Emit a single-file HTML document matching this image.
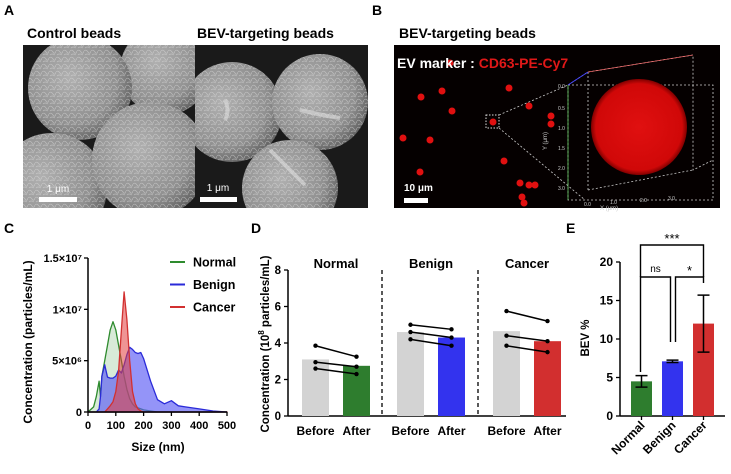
<!DOCTYPE html>
<html><head><meta charset="utf-8"><style>
html,body{margin:0;padding:0;background:#fff;}
svg{display:block;font-family:"Liberation Sans",Arial,sans-serif;}
.b{font-weight:bold;}
</style></head><body>
<svg id="fig" width="731" height="474" viewBox="0 0 731 474">
<defs>
<radialGradient id="sem" cx="0.4" cy="0.4" r="0.65"><stop offset="0" stop-color="#b0b0b0"/><stop offset="0.7" stop-color="#909090"/><stop offset="1" stop-color="#606060"/></radialGradient>
<pattern id="tex" width="7" height="7" patternUnits="userSpaceOnUse"><path d="M0 2 Q2 0 4 3 T7 2 M1 6 Q3 4 6 6" stroke="#e0e0e0" stroke-width="0.7" fill="none" opacity="0.5"/></pattern>
<radialGradient id="redsph" cx="0.5" cy="0.5" r="0.5"><stop offset="0" stop-color="#e01010"/><stop offset="0.9" stop-color="#d00808"/><stop offset="1" stop-color="#800000"/></radialGradient>
<clipPath id="clipA1"><rect x="23" y="45" width="172" height="163"/></clipPath>
<clipPath id="clipA2"><rect x="195" y="45" width="173" height="163"/></clipPath>
</defs>

<g class="b" font-size="14">
<text x="4" y="15">A</text><text x="372" y="15">B</text>
<text x="4" y="233">C</text><text x="251" y="233">D</text><text x="566" y="233">E</text>
</g>

<g>
<text x="27" y="38" class="b" font-size="14">Control beads</text>
<text x="197" y="38" class="b" font-size="14">BEV-targeting beads</text>
<rect x="23" y="45" width="345" height="163" fill="#1a1a1a"/>
<g clip-path="url(#clipA1)">
<circle cx="165" cy="70" r="45" fill="url(#sem)"/><circle cx="165" cy="70" r="45" fill="url(#tex)"/>
<circle cx="80" cy="88" r="52" fill="url(#sem)"/><circle cx="80" cy="88" r="52" fill="url(#tex)"/>
<circle cx="52" cy="188" r="55" fill="url(#sem)"/><circle cx="52" cy="188" r="55" fill="url(#tex)"/>
<circle cx="150" cy="160" r="58" fill="url(#sem)"/><circle cx="150" cy="160" r="58" fill="url(#tex)"/>
</g>
<g clip-path="url(#clipA2)">
<circle cx="232" cy="112" r="50" fill="url(#sem)"/><circle cx="232" cy="112" r="50" fill="url(#tex)"/>
<circle cx="320" cy="102" r="48" fill="url(#sem)"/><circle cx="320" cy="102" r="48" fill="url(#tex)"/>
<circle cx="290" cy="188" r="48" fill="url(#sem)"/><circle cx="290" cy="188" r="48" fill="url(#tex)"/>
<path d="M225 100 q5 10 0 20 M300 110 q20 5 40 8 M270 150 q20 20 35 35" stroke="#ddd" stroke-width="4" fill="none" opacity="0.6"/>
</g>
<rect x="39" y="197" width="38" height="5" fill="#fff"/>
<text x="58" y="192" fill="#fff" font-size="10" text-anchor="middle">1 μm</text>
<rect x="200" y="197" width="37" height="5" fill="#fff"/>
<text x="218" y="191" fill="#fff" font-size="10" text-anchor="middle">1 μm</text>
</g>

<g>
<text x="399" y="38" class="b" font-size="14">BEV-targeting beads</text>
<rect x="394" y="45" width="326" height="163" fill="#050000"/>
<g fill="#e01010">
<circle cx="450" cy="63" r="3.5"/><circle cx="421" cy="97" r="3.5"/><circle cx="442" cy="91" r="3.5"/><circle cx="452" cy="111" r="3.5"/>
<circle cx="509" cy="88" r="3.5"/><circle cx="529" cy="106" r="3.5"/><circle cx="493" cy="122" r="3.5"/><circle cx="551" cy="116" r="3.5"/>
<circle cx="551" cy="124" r="3.5"/><circle cx="403" cy="138" r="3.5"/><circle cx="430" cy="140" r="3.5"/><circle cx="504" cy="161" r="3.5"/>
<circle cx="420" cy="172" r="3.5"/><circle cx="520" cy="183" r="3.5"/><circle cx="529" cy="185" r="3.5"/><circle cx="535" cy="185" r="3.5"/>
<circle cx="522" cy="197" r="3.5"/><circle cx="524" cy="203" r="3.5"/>
</g>
<text x="397" y="68" class="b" font-size="14" fill="#fff">EV marker : <tspan fill="#e01818">CD63-PE-Cy7</tspan></text>
<rect x="486" y="115" width="13" height="13" fill="none" stroke="#ddd" stroke-dasharray="1.5,1.5"/>
<g stroke="#ccc" stroke-dasharray="2,2" fill="none" stroke-width="0.8">
<line x1="499" y1="115" x2="568" y2="85"/><line x1="499" y1="128" x2="585" y2="200"/>
<polyline points="568,85 588,72 693,55 693,170 713,160"/>
<line x1="588" y1="72" x2="588" y2="190"/>
<polyline points="588,190 693,170"/>
<rect x="568" y="85" width="145" height="115"/>
</g>
<line x1="568" y1="85" x2="588" y2="72" stroke="#44f" stroke-width="1"/>
<line x1="588" y1="72" x2="693" y2="55" stroke="#e66" stroke-width="0.8"/>
<line x1="568" y1="85" x2="568" y2="200" stroke="#6c6" stroke-width="0.8"/>
<circle cx="639" cy="127" r="48" fill="url(#redsph)"/>
<g fill="#ccc" font-size="5">
<text x="558" y="88">0.0</text><text x="558" y="110">0.5</text><text x="558" y="130">1.0</text><text x="558" y="150">1.5</text><text x="558" y="170">2.0</text><text x="558" y="190">3.0</text>
<text x="584" y="206">0.0</text><text x="610" y="204">1.0</text><text x="640" y="202">2.0</text><text x="668" y="200">3.0</text>
<text x="600" y="210" font-size="6">X (μm)</text>
<text x="547" y="150" font-size="6" transform="rotate(-90 547 150)">Y (μm)</text>
</g>
<rect x="404" y="198" width="24" height="5" fill="#fff"/>
<text x="404" y="191" fill="#fff" font-size="10" class="b">10 μm</text>
</g>

<g id="chartC"></g>
<g id="chartD"></g>
<g id="chartE"></g>
</svg>

<script>
const NS="http://www.w3.org/2000/svg";
function mk(parent,tag,attrs,text){const e=document.createElementNS(NS,tag);for(const k in attrs)e.setAttribute(k,attrs[k]);if(text!==undefined)e.textContent=text;parent.appendChild(e);return e;}

const cSizes=[0,20,30,40,45,50,60,70,80,90,100,110,120,130,140,150,160,170,180,190,200,225,250,275,300,325,350,400,450,500];
const cNormal=[0,0.5,1.5,3.0,1.5,3.5,5,6.5,8,8.8,8,6.5,5,3.5,2.2,1.3,0.8,0.5,0.4,0.3,0.2,0.1,0,0,0,0,0,0,0,0];
const cBenign=[0,0,0,0.3,1.5,3.5,4.6,3.4,3.3,3.3,3.5,4.1,3.8,4.6,5.6,6.3,6.1,5.8,5.7,5.8,5.2,3.0,1.2,0.8,1.1,0.6,0.5,0.3,0.1,0];
const cCancer=[0,0,0,0,0,0,0,0.3,0.6,1.0,2.0,4.0,8.0,11.7,9.0,5.0,2.0,0.8,0.3,0.1,0,0,0,0,0,0,0,0,0,0];
const cXTicks=[0,100,200,300,400,500];
const cYTicks=[0,5,10,15];
const cYTickLabels=["0","5×10⁶","1×10⁷","1.5×10⁷"];
const cLegend=["Normal","Benign","Cancer"];

const dGroups=["Normal","Benign","Cancer"];
const dBefore=[3.1,4.6,4.65];
const dAfter=[2.75,4.3,4.1];
const dPairsBefore=[[3.85,2.95,2.6],[5.0,4.6,4.2],[5.75,4.4,3.85]];
const dPairsAfter=[[3.25,2.7,2.3],[4.75,4.3,3.85],[5.2,4.1,3.5]];
const dYTicks=[0,2,4,6,8];

const eCats=["Normal","Benign","Cancer"];
const eMeans=[4.5,7.1,12.0];
const eErr=[0.75,0.15,3.7];
const eYTicks=[0,5,10,15,20];

(function(){
const g=document.getElementById('chartC');
const X=v=>88+v*(227-88)/500, Y=v=>412-v*(412-258)/15;
const series=[{d:cNormal,stroke:"#2e8b2e",fill:"rgba(60,150,60,0.2)",n:"normal"},{d:cBenign,stroke:"#2a2ad8",fill:"rgba(90,90,245,0.65)",n:"benign"},{d:cCancer,stroke:"#d23030",fill:"rgba(225,60,60,0.55)",n:"cancer"}];
series.forEach(s=>{
 let p="M"+X(cSizes[0])+","+Y(0);
 cSizes.forEach((x,i)=>{p+=" L"+X(x).toFixed(1)+","+Y(s.d[i]).toFixed(1);});
 p+=" L"+X(cSizes[cSizes.length-1])+","+Y(0)+" Z";
 const e=mk(g,'path',{d:p,fill:s.fill,stroke:s.stroke,'stroke-width':1.3,'stroke-linejoin':'round'});
 
 
});
mk(g,'line',{x1:88,y1:258,x2:88,y2:412,stroke:'#000','stroke-width':1.5});
mk(g,'line',{x1:88,y1:412,x2:227,y2:412,stroke:'#000','stroke-width':1.5});
cYTicks.forEach((t,i)=>{
 mk(g,'line',{x1:84,y1:Y(t),x2:88,y2:Y(t),stroke:'#000','stroke-width':1.3});
 const e=mk(g,'text',{x:82,y:Y(t)+4,'text-anchor':'end','font-size':11,'font-weight':'bold'},cYTickLabels[i]);
 
 
});
cXTicks.forEach(t=>{
 mk(g,'line',{x1:X(t),y1:412,x2:X(t),y2:416,stroke:'#000','stroke-width':1.3});
 const e=mk(g,'text',{x:X(t),y:429,'text-anchor':'middle','font-size':11,'font-weight':'bold'},String(t));
 
 
});
let e=mk(g,'text',{x:158,y:451,'text-anchor':'middle','font-size':12,'font-weight':'bold'},"Size (nm)");


e=mk(g,'text',{x:0,y:0,'text-anchor':'middle','font-size':12,'font-weight':'bold',transform:'translate(32,342) rotate(-90)'},"Concentration (particles/mL)");


cLegend.forEach((n,i)=>{
 const y=262+i*22.5;
 const lg=mk(g,'g',{});
 
 
 mk(lg,'line',{x1:170,y1:y,x2:185,y2:y,stroke:series[i].stroke,'stroke-width':2});
 mk(lg,'text',{x:193,y:y+4.5,'font-size':12.5,'font-weight':'bold'},n);
});
})();

(function(){
const g=document.getElementById('chartD');
const Y=v=>416-v*(416-270)/8;
const groupX=[302,397,493], bw=27, gap=41;
const colors=["#2e7d2e","#3333ee","#d22f2f"];
mk(g,'line',{x1:288,y1:270,x2:288,y2:416,stroke:'#000','stroke-width':1.5});
mk(g,'line',{x1:288,y1:416,x2:566,y2:416,stroke:'#000','stroke-width':1.5});
dYTicks.forEach(t=>{
 mk(g,'line',{x1:284,y1:Y(t),x2:288,y2:Y(t),stroke:'#000','stroke-width':1.3});
 const e=mk(g,'text',{x:281,y:Y(t)+4,'text-anchor':'end','font-size':11.5,'font-weight':'bold'},String(t));
 
 
});
[382,478].forEach(x=>mk(g,'line',{x1:x,y1:270,x2:x,y2:416,stroke:'#000','stroke-width':1.3,'stroke-dasharray':'4,3'}));
dGroups.forEach((n,i)=>{
 const x0=groupX[i];
 let e=mk(g,'rect',{x:x0,y:Y(dBefore[i]),width:bw,height:Y(0)-Y(dBefore[i]),fill:'#d3d3d3'});
 
 
 e=mk(g,'rect',{x:x0+gap,y:Y(dAfter[i]),width:bw,height:Y(0)-Y(dAfter[i]),fill:colors[i]});
 
 
 dPairsBefore[i].forEach((b,j)=>{
  const a=dPairsAfter[i][j];
  const x1=x0+bw/2, x2=x0+gap+bw/2;
  const pl=mk(g,'line',{x1:x1,y1:Y(b),x2:x2,y2:Y(a),stroke:'#000','stroke-width':1.5});
  
  
  mk(g,'circle',{cx:x1,cy:Y(b),r:2.2,fill:'#000'});
  mk(g,'circle',{cx:x2,cy:Y(a),r:2.2,fill:'#000'});
 });
 e=mk(g,'text',{x:x0+(gap+bw)/2,y:268,'text-anchor':'middle','font-size':13,'font-weight':'bold'},n);
 
 
 mk(g,'text',{x:x0+bw/2,y:435,'text-anchor':'middle','font-size':12,'font-weight':'bold'},"Before");
 mk(g,'text',{x:x0+gap+bw/2,y:435,'text-anchor':'middle','font-size':12,'font-weight':'bold'},"After");
});
const t=mk(g,'text',{x:0,y:0,'text-anchor':'middle','font-size':11.5,'font-weight':'bold',transform:'translate(269,344) rotate(-90)'});


t.innerHTML='Concentration (10<tspan dy="-5" font-size="8">8</tspan><tspan dy="5"> particles/mL)</tspan>';
})();

(function(){
const g=document.getElementById('chartE');
const Y=v=>416-v*(416-262)/20;
const barX=[631,662,693], bw=21;
const colors=["#2e7d2e","#3333ee","#d22f2f"];
mk(g,'line',{x1:620,y1:262,x2:620,y2:416,stroke:'#000','stroke-width':1.5});
mk(g,'line',{x1:620,y1:416,x2:725,y2:416,stroke:'#000','stroke-width':1.5});
eYTicks.forEach(t=>{
 mk(g,'line',{x1:616,y1:Y(t),x2:620,y2:Y(t),stroke:'#000','stroke-width':1.3});
 const e=mk(g,'text',{x:613,y:Y(t)+4,'text-anchor':'end','font-size':12,'font-weight':'bold'},String(t));
 
 
});
eCats.forEach((n,i)=>{
 const x=barX[i], cx=x+bw/2;
 let e=mk(g,'rect',{x:x,y:Y(eMeans[i]),width:bw,height:Y(0)-Y(eMeans[i]),fill:colors[i]});
 
 
 const hi=Y(eMeans[i]+eErr[i]), lo=Y(eMeans[i]-eErr[i]);
 e=mk(g,'path',{d:`M${cx},${hi} V${lo} M${cx-6},${hi} H${cx+6} M${cx-6},${lo} H${cx+6}`,stroke:'#000','stroke-width':1.5,fill:'none'});
 
 
 mk(g,'line',{x1:cx,y1:416,x2:cx,y2:420,stroke:'#000','stroke-width':1.3});
 e=mk(g,'text',{x:0,y:0,'text-anchor':'end','font-size':12,'font-weight':'bold',transform:`translate(${cx+4},${426}) rotate(-45)`},n);
 
 
});
const c=barX.map(x=>x+bw/2);
const br=[[c[0]-1,c[1]-2,277,372,342,"ns"],[c[1]+3,c[2],277,342,283,"*"],[c[0]-1,c[2],245,277,277,"***"]];
br.forEach(b=>{
 const e=mk(g,'path',{d:`M${b[0]},${b[3]} V${b[2]} H${b[1]} V${b[4]}`,stroke:'#000','stroke-width':1.4,fill:'none'});
 
 
 mk(g,'text',{x:(b[0]+b[1])/2,y:b[2]-(b[5]==="ns"?5:2),'text-anchor':'middle','font-size':b[5]==="ns"?10:13},b[5]);
});
const t=mk(g,'text',{x:0,y:0,'text-anchor':'middle','font-size':11.5,'font-weight':'bold',transform:'translate(589,338) rotate(-90)'},"BEV %");


})();
</script>
</body></html>
